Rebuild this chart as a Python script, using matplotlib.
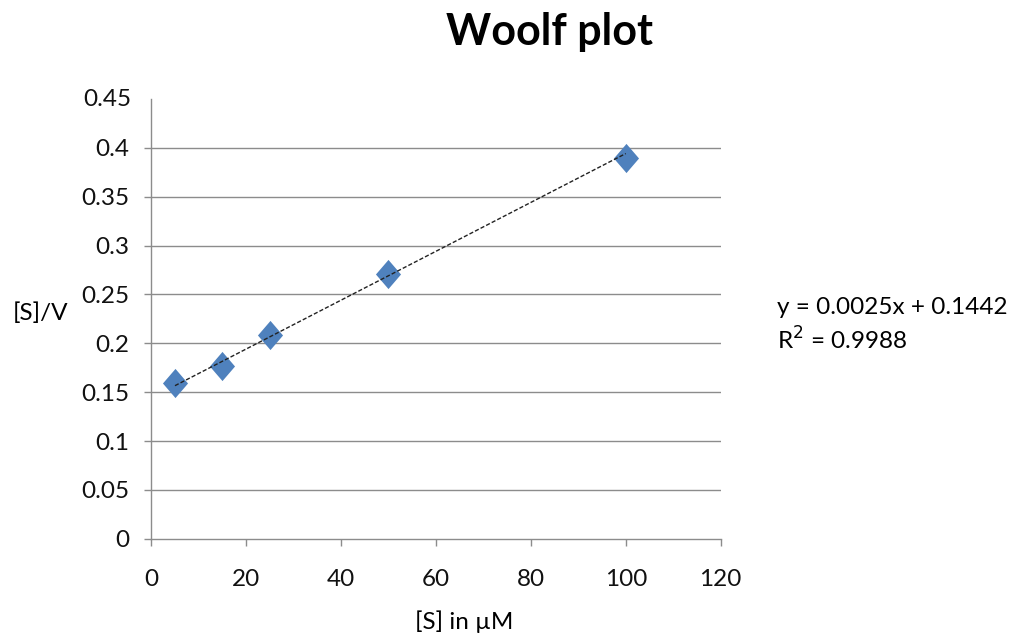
import matplotlib
matplotlib.use("Agg")
import matplotlib.pyplot as plt
import numpy as np

plt.rcParams['font.family'] = ['Lato', 'DejaVu Sans']

s_values = [5, 15, 25, 50, 100]
s_over_v = [0.159, 0.177, 0.209, 0.271, 0.390]
slope = 0.0025
intercept = 0.1442
eq_text = "y = 0.0025x + 0.1442"
r2_text = "R$^2$ = 0.9988"
x_ticks = [0, 20, 40, 60, 80, 100, 120]
y_ticks = [0, 0.05, 0.1, 0.15, 0.2, 0.25, 0.3, 0.35, 0.4, 0.45]
y_tick_labels = ["0", "0.05", "0.1", "0.15", "0.2", "0.25", "0.3", "0.35", "0.4", "0.45"]

fig = plt.figure(figsize=(10.15, 6.43), dpi=100)
ax = fig.add_axes([0.149, 0.162, 0.561, 0.684])

grid_c = '#8c8c8c'
fs = 17.5
for yv in y_ticks[1:-1]:
    ax.axhline(yv, color=grid_c, lw=1.0, zorder=1)

diamond = [(0, 1), (0.86, 0), (0, -1), (-0.86, 0), (0, 1)]
ax.plot(s_values, s_over_v, linestyle='none', marker=diamond, markersize=21,
        color='#4F81BD', markeredgewidth=0, zorder=3)
xs = np.array([min(s_values), max(s_values)])
ax.plot(xs, slope * xs + intercept, linestyle=(0, (3, 1.5)), color='#222222', lw=1.0, zorder=4)

ax.set_xlim(0, 120)
ax.set_ylim(0, 0.45)
ax.set_xticks(x_ticks)
ax.set_yticks(y_ticks[:-1])
ax.set_yticklabels(y_tick_labels[:-1])
for side in ['top', 'right']:
    ax.spines[side].set_visible(False)
for side in ['left', 'bottom']:
    ax.spines[side].set_color(grid_c)
    ax.spines[side].set_linewidth(1.0)
ax.tick_params(axis='both', colors=grid_c, length=5, width=1.0, labelsize=fs,
               labelcolor='#111111')
ax.tick_params(axis='y', pad=11)
ax.tick_params(axis='x', pad=17)
# top label 0.45 (no tick mark in the reference)
ax.annotate(y_tick_labels[-1], xy=(0, 0.45), xycoords=('axes fraction', 'data'),
            xytext=(-14.6, 0), textcoords='offset points',
            ha='right', va='center', fontsize=fs, color='#111111')

fig.text(0.541, 0.930, "Woolf plot", ha='center', va='baseline', fontsize=31, fontweight='bold')
fig.text(0.457, 0.033, "[S] in µM", ha='center', va='center', fontsize=fs)
fig.text(0.040, 0.513, "[S]/V", ha='center', va='center', fontsize=fs)
fig.text(0.766, 0.522, eq_text, ha='left', va='center', fontsize=fs)
fig.text(0.766, 0.471, r2_text, ha='left', va='center', fontsize=fs)

fig.savefig("out.png", dpi=100)
